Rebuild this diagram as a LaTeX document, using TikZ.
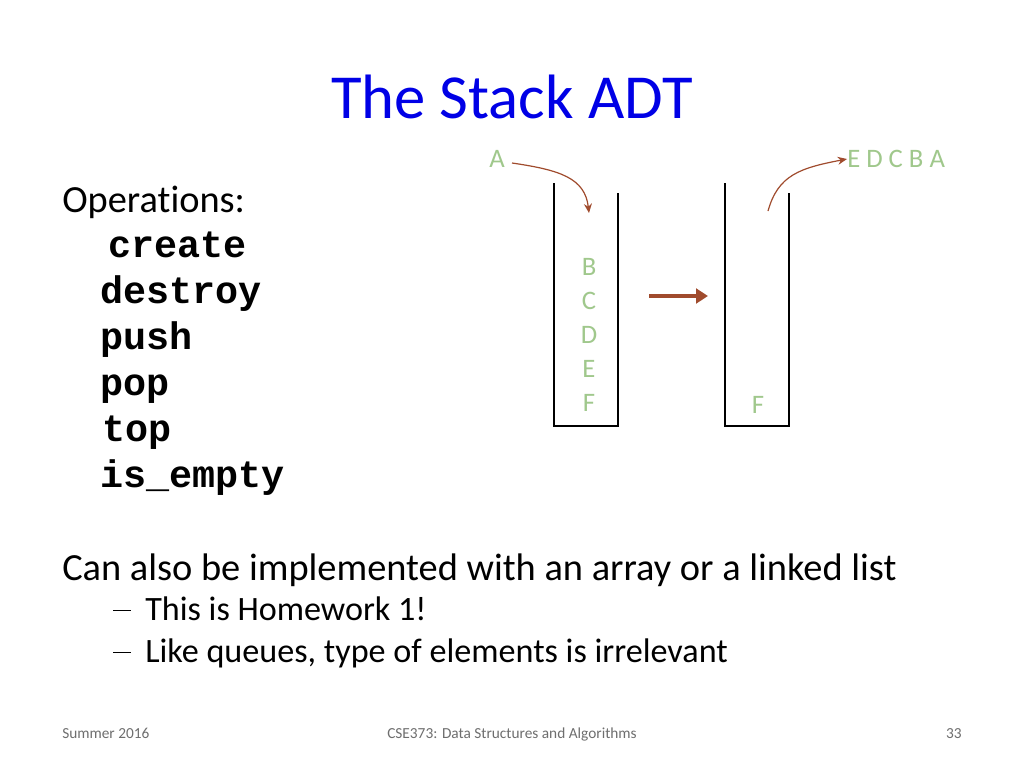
\documentclass[tikz,border=0pt]{standalone}
\usepackage{fontspec}
\setmainfont[Ligatures={NoCommon,NoRare,NoContextual}]{Carlito}
\newfontfamily\codefont{Liberation Mono}
\usetikzlibrary{arrows.meta}
\definecolor{ttl}{RGB}{0,0,230}
\definecolor{lett}{RGB}{160,200,140}
\definecolor{arr}{RGB}{160,75,45}
\definecolor{foot}{RGB}{110,110,110}
\begin{document}
\begin{tikzpicture}[x=0.75pt,y=-0.75pt,
  body/.style={anchor=base west,inner sep=0pt,font=\fontsize{28.8}{34}\selectfont},
  code/.style={anchor=base west,inner sep=0pt,font=\codefont\bfseries\fontsize{28.8}{34}\selectfont},
  sub/.style={anchor=base west,inner sep=0pt,font=\fontsize{25.6}{30}\selectfont},
  foot/.style={inner sep=0pt,text=foot,font=\fontsize{11.5}{13}\selectfont},
  lt/.style={inner sep=0pt,text=lett,font=\fontsize{20}{24}\selectfont},
  wall/.style={draw=black,line width=0.9pt},
  thin/.style={draw=arr,line width=0.9pt,-{Stealth[length=7pt,width=6pt]}},
  thick/.style={draw=arr,line width=3pt,-{Triangle[length=9pt,width=11pt]}}]
\useasboundingbox[fill=white] (0,0) rectangle (1024,768);
\node[inner sep=0pt,text=ttl,font=\fontsize{47}{56}\selectfont] (title) at (512,97) {The Stack ADT};
\node[body] (ops) at (62,212) {Operations:};
\node[code] (c1) at (108,257) {create};
\node[code] (c2) at (100,303) {destroy};
\node[code] (c3) at (100,349) {push};
\node[code] (c4) at (100,395) {pop};
\node[code] (c5) at (102,441) {top};
\node[code] (c6) at (100,487) {is\_empty};
\node[body] (can) at (62,580) {Can also be implemented with an array or a linked list};
\node[sub] (d1) at (113,620) {\rule[6.5pt]{13.5pt}{1.3pt}};
\node[sub] (s1) at (145,620) {This is Homework 1!};
\node[sub] (d2) at (113,662) {\rule[6.5pt]{13.5pt}{1.3pt}};
\node[sub] (s2) at (145,662) {Like queues, type of elements is irrelevant};
\node[foot,anchor=base west] (f1) at (62,738) {Summer 2016};
\node[foot,anchor=base] (f2) at (512,738) {CSE373: Data Structures and Algorithms};
\node[foot,anchor=base east] (f3) at (962,738) {33};
% stacks
\draw[wall] (554,183) -- (554,426) -- (618,426) -- (618,193);
\draw[wall] (725,183) -- (725,426) -- (789,426) -- (789,193);
\node[lt] (b) at (589,267) {B};
\node[lt] (c) at (589,301) {C};
\node[lt] (d) at (589,335) {D};
\node[lt] (e) at (589,369) {E};
\node[lt] (f) at (589,403) {F};
\node[lt] (f2) at (758,405) {F};
\node[lt,anchor=east] (a) at (505,159) {A};
\node[lt,anchor=west] (out) at (847,159) {E D C B A};
\coordinate (pin) at (589,213);
\coordinate (pout) at (768,211);
\coordinate (m1) at (649,296);
\coordinate (m2) at (708,296);
\draw[thin] (a.east) ++(7,4) .. controls (560,170) and (585,178) .. (pin);
\draw[thin] (pout) .. controls (778,175) and (800,168) .. (out.west);
\draw[thick] (m1) -- (m2);
\end{tikzpicture}
\end{document}
